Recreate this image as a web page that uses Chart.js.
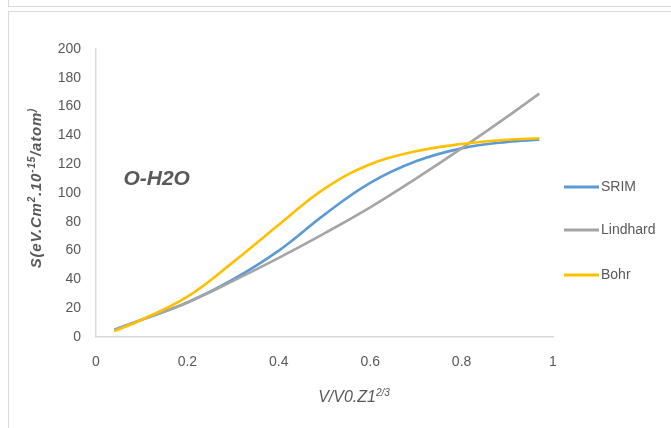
<!DOCTYPE html>
<html>
<head>
<meta charset="utf-8">
<script src="https://cdn.jsdelivr.net/npm/chart.js@4.4.1/dist/chart.umd.min.js"></script>
<style>
  html, body { margin: 0; padding: 0; background: #fff; }
  #wrap { position: relative; width: 671px; height: 428px; overflow: hidden; }
  #topbox { position: absolute; left: 8px; top: -10px; width: 700px; height: 15px; border: 1px solid #d9d9d9; }
  #chartbox { position: absolute; left: 8px; top: 11px; width: 700px; height: 460px; border: 1px solid #d9d9d9; }
  canvas { position: absolute; left: 0; top: 0; }
</style>
</head>
<body>
<div id="wrap">
  <div id="topbox"></div>
  <div id="chartbox"></div>
  <canvas id="myChart" width="671" height="428"></canvas>
</div>
<script>
// values
const xValues = [0.04, 0.1, 0.2, 0.3, 0.4, 0.5, 0.6, 0.7, 0.8, 0.9, 0.97];
const srim = [5, 12, 24, 40, 60, 85, 107, 122, 131, 135.5, 137];
const lindhard = [5, 12, 24, 39, 55, 72, 90, 110, 131, 153, 169];
const bohr = [4, 12, 28, 52, 78, 103, 120, 129, 134, 137, 138];
const seriesNames = ["SRIM", "Lindhard", "Bohr"];
const seriesColors = ["#5B9BD5", "#A5A5A5", "#FFC000"];
const xTicks = [0, 0.2, 0.4, 0.6, 0.8, 1];
const yTicks = [0, 20, 40, 60, 80, 100, 120, 140, 160, 180, 200];

const textColor = "#595959";
const sans = "'Liberation Sans', Arial, sans-serif";

function toPoints(ys) {
  return xValues.map((x, i) => ({ x: x, y: ys[i] }));
}

// draws a run of text pieces, some of them superscript
function drawRich(ctx, pieces, x, y, size, style) {
  let cx = x;
  pieces.forEach(p => {
    const s = p[1] ? Math.round(size * 0.65) : size;
    ctx.font = style + " " + s + "px " + sans;
    ctx.fillText(p[0], cx, p[1] ? y - size * 0.4 : y);
    cx += ctx.measureText(p[0]).width;
  });
}

function richWidth(ctx, pieces, size, style) {
  let w = 0;
  pieces.forEach(p => {
    const s = p[1] ? Math.round(size * 0.65) : size;
    ctx.font = style + " " + s + "px " + sans;
    w += ctx.measureText(p[0]).width;
  });
  return w;
}

const extras = {
  id: "extras",
  afterDraw(chart) {
    const ctx = chart.ctx;
    const xs = chart.scales.x, ys = chart.scales.y;
    ctx.save();
    ctx.fillStyle = textColor;
    ctx.textBaseline = "alphabetic";
    ctx.textAlign = "left";

    // label inside the plot
    ctx.font = "bold italic 21px " + sans;
    ctx.fillText("O-H2O", xs.getPixelForValue(0.06), ys.getPixelForValue(105.5));

    // x axis title
    const xt = [["V/V0.Z1", false], ["2/3", true]];
    const xw = richWidth(ctx, xt, 16, "italic");
    drawRich(ctx, xt, 354 - xw / 2, 402, 16, "italic");

    // y axis title
    const yt = [["S(eV.Cm", false], ["2", true], [".10", false], ["-15", true], ["/atom", false], [")", true]];
    ctx.letterSpacing = "0.8px";
    const yw = richWidth(ctx, yt, 15, "bold italic");
    ctx.translate(41, 188);
    ctx.rotate(-Math.PI / 2);
    drawRich(ctx, yt, -yw / 2, 0, 15, "bold italic");
    ctx.restore();

    // legend
    ctx.save();
    const rows = [187, 230, 275];
    seriesNames.forEach((name, i) => {
      ctx.strokeStyle = seriesColors[i];
      ctx.lineWidth = 3;
      ctx.beginPath();
      ctx.moveTo(564, rows[i]);
      ctx.lineTo(599, rows[i]);
      ctx.stroke();
      ctx.fillStyle = textColor;
      ctx.font = "14px " + sans;
      ctx.textBaseline = "middle";
      ctx.fillText(name, 601, rows[i]);
    });
    ctx.restore();
  }
};

const ctx = document.getElementById("myChart").getContext("2d");
new Chart(ctx, {
  type: "line",
  data: {
    datasets: [
      { label: seriesNames[0], data: toPoints(srim) },
      { label: seriesNames[1], data: toPoints(lindhard) },
      { label: seriesNames[2], data: toPoints(bohr) }
    ].map((d, i) => Object.assign(d, {
      borderColor: seriesColors[i],
      backgroundColor: seriesColors[i],
      borderWidth: 2.6,
      pointRadius: 0,
      tension: 0.4,
      fill: false
    })).reverse()
  },
  options: {
    responsive: false,
    devicePixelRatio: 1,
    animation: false,
    layout: { padding: { left: 0, top: 49, right: 118, bottom: 0 } },
    plugins: {
      legend: { display: false },
      tooltip: { enabled: false }
    },
    scales: {
      x: {
        type: "linear",
        min: 0,
        max: 1,
        afterFit: s => { s.height = 91; },
        afterBuildTicks: s => { s.ticks = xTicks.map(v => ({ value: v })); },
        grid: { display: false, drawTicks: false },
        border: { display: true, color: "#d9d9d9", width: 1.5 },
        ticks: {
          color: textColor,
          font: { family: sans, size: 14 },
          padding: 17,
          maxRotation: 0,
          callback: v => String(+v.toFixed(1))
        }
      },
      y: {
        min: 0,
        max: 200,
        afterFit: s => { s.width = 96; },
        afterBuildTicks: s => { s.ticks = yTicks.map(v => ({ value: v })); },
        grid: { display: false, drawTicks: false },
        border: { display: true, color: "#d9d9d9", width: 1.5 },
        ticks: { color: textColor, font: { family: sans, size: 14 }, padding: 15 }
      }
    }
  },
  plugins: [extras]
});
</script>
</body>
</html>
